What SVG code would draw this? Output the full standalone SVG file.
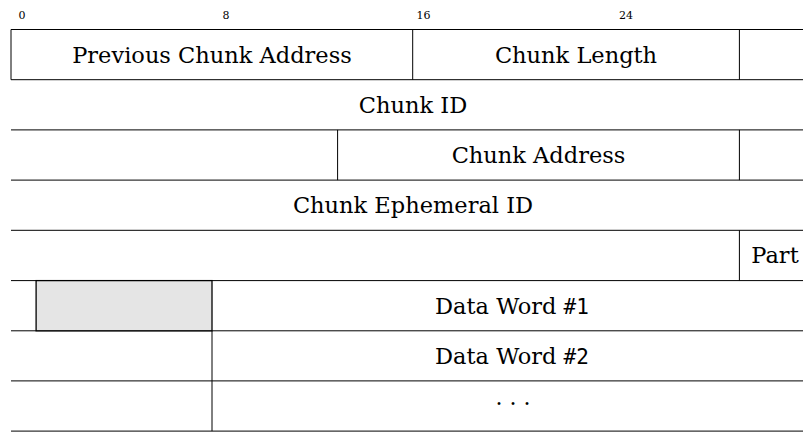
<svg xmlns="http://www.w3.org/2000/svg" width="803" height="432" viewBox="0 0 803 432">
  <style>
    .bg { fill: #ffffff; }
    .rule { stroke: #000000; stroke-width: 1; fill: none; }
    .label { font-family: 'DejaVu Serif', serif; font-size: 22.5px; fill: #000000; text-anchor: middle; }
    .tt { font-family: 'DejaVu Sans Mono', monospace; font-size: 21px; }
    .bit { font-family: 'DejaVu Serif', serif; font-size: 11px; fill: #000000; text-anchor: middle; }
    .reserved { fill: #e5e5e5; stroke: #000000; stroke-width: 1.3; }
  </style>
  <rect class="bg" x="0" y="0" width="803" height="432"/>

  <!-- bit numbers above the first word -->
  <g id="bit-header">
    <text class="bit" x="22" y="19">0</text>
    <text class="bit" x="226" y="19">8</text>
    <text class="bit" x="423.5" y="19">16</text>
    <text class="bit" x="626" y="19">24</text>
  </g>

  <!-- word boundaries and field dividers -->
  <g id="connectors">
    <line class="rule" x1="11" y1="29.5" x2="803" y2="29.5"/>
    <line class="rule" x1="11" y1="79.7" x2="803" y2="79.7"/>
    <line class="rule" x1="11" y1="129.9" x2="803" y2="129.9"/>
    <line class="rule" x1="11" y1="180.1" x2="803" y2="180.1"/>
    <line class="rule" x1="11" y1="230.3" x2="803" y2="230.3"/>
    <line class="rule" x1="11" y1="280.6" x2="803" y2="280.6"/>
    <line class="rule" x1="11" y1="330.8" x2="803" y2="330.8"/>
    <line class="rule" x1="11" y1="380.9" x2="803" y2="380.9"/>
    <line class="rule" x1="11" y1="431.1" x2="803" y2="431.1"/>
  </g>

  <g id="prev-chunk-address">
    <line class="rule" x1="11" y1="29.5" x2="11" y2="79.7"/>
    <line class="rule" x1="412.7" y1="29.5" x2="412.7" y2="79.7"/>
    <text class="label" x="212" y="62.5">Previous Chunk Address</text>
  </g>

  <g id="chunk-length">
    <line class="rule" x1="739.4" y1="29.5" x2="739.4" y2="79.7"/>
    <text class="label" x="576" y="62.5">Chunk Length</text>
  </g>

  <g id="chunk-id">
    <text class="label" x="413" y="112.5">Chunk ID</text>
  </g>

  <g id="chunk-address">
    <line class="rule" x1="337.6" y1="129.9" x2="337.6" y2="180.1"/>
    <line class="rule" x1="739.4" y1="129.9" x2="739.4" y2="180.1"/>
    <text class="label" x="538.5" y="162.7">Chunk Address</text>
  </g>

  <g id="chunk-ephemeral-id">
    <text class="label" x="413" y="212.9">Chunk Ephemeral ID</text>
  </g>

  <g id="part">
    <line class="rule" x1="739.4" y1="230.3" x2="739.4" y2="280.6"/>
    <text class="label" x="775" y="263">Part</text>
  </g>

  <g id="reserved-bits">
    <rect class="reserved" x="36.1" y="280.6" width="175.9" height="50.2"/>
  </g>

  <g id="data-word-1">
    <text class="label" x="512" y="314">Data Word <tspan class="tt">#1</tspan></text>
  </g>

  <g id="data-word-2">
    <line class="rule" x1="212" y1="330.8" x2="212" y2="380.9"/>
    <text class="label" x="512" y="364.2">Data Word <tspan class="tt">#2</tspan></text>
  </g>

  <g id="more-words">
    <line class="rule" x1="212" y1="380.9" x2="212" y2="431.1"/>
    <text class="label" x="513" y="405" style="font-size:22px">. . .</text>
  </g>
</svg>
